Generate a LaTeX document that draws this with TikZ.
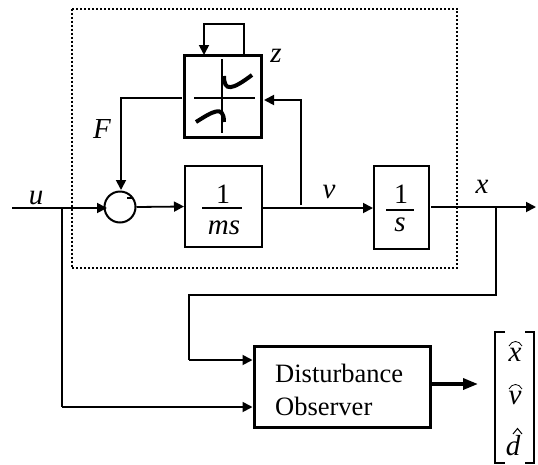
\documentclass[tikz,border=0pt]{standalone}
\usepackage{fontspec}
\setmainfont{Liberation Serif}
\usetikzlibrary{arrows.meta}
\tikzset{
  x=1pt,y=-1pt,
  wire/.style={line width=1.8pt},
  flow/.style={wire,-{Triangle[length=10pt,width=10pt]}},
  bigflow/.style={line width=3.4pt,-{Triangle[length=15pt,width=11pt]}},
  thinbox/.style={draw,line width=2pt,inner sep=0pt},
  thickbox/.style={draw,line width=3pt,inner sep=0pt},
  lab/.style={font=\fontsize{29}{32}\selectfont\itshape,inner sep=0pt},
  num/.style={font=\fontsize{28}{30}\selectfont,inner sep=0pt},
  txt/.style={font=\fontsize{26.5}{30}\selectfont,inner sep=0pt,anchor=base west},
  hatarc/.style={line width=0.8pt},
  brk/.style={line width=1.3pt},
}
\begin{document}
\begin{tikzpicture}
\useasboundingbox (0,0) rectangle (538,464);
\fill[white] (0,0) rectangle (538,464);
% plant frame
\coordinate (framea) at (71.5,8.5);
\coordinate (frameb) at (457,268);
\draw[line width=2pt,dash pattern=on 2pt off 2pt] (framea) rectangle (frameb);
% blocks
\node[thickbox,minimum width=77pt,minimum height=82pt] (nl) at (222.5,96) {};
\node[thinbox,minimum width=77pt,minimum height=81pt] (ms) at (223.5,206.5) {};
\node[thinbox,minimum width=55pt,minimum height=83pt] (int) at (401.5,207.5) {};
\node[thickbox,minimum width=176pt,minimum height=81pt] (obs) at (342,386.5) {};
\node[draw,circle,line width=2pt,minimum size=31pt,inner sep=0pt] (sum) at (120,207) {};
\draw[line width=1.4pt] (127,198) -- (133,198);
\node[txt] (obst) at (275,382) {Disturbance};
\node[txt] (obsb) at (275,415) {Observer};
% fractions
\node[num] (one) at (223,194.5) {1};
\node[lab] (msl) at (224,228) {ms};
\coordinate (bara) at (202,208); \coordinate (barb) at (242,208);
\draw[wire] (bara) -- (barb);
\node[num] (onei) at (401,194.5) {1};
\node[lab] (sl) at (400,225) {s};
\coordinate (barc) at (386,210); \coordinate (bard) at (414,210);
\draw[line width=2.2pt] (barc) -- (bard);
% nonlinearity glyph
\coordinate (axl) at (194,98); \coordinate (axr) at (255,98);
\coordinate (axt) at (222,59); \coordinate (axb) at (222,133);
\draw[wire] (axl) -- (axr);
\draw[wire] (axt) -- (axb);
\draw[line width=4pt] (224,76) .. controls (224,92) and (232,90) .. (252,75);
\draw[line width=4pt] (196,122) .. controls (212,112) and (224,104) .. (224,122);
% labels
\node[lab] (lz) at (276,56) {z};
\node[lab] (lF) at (102,129) {F};
\node[lab] (lu) at (36,198) {u};
\node[lab] (lv) at (329,192) {v};
\node[lab] (lx) at (482,187) {x};
% connectors
\coordinate (in) at (12,208);
\coordinate (br) at (62,208);
\coordinate (lo) at (62,407);
\coordinate (junv) at (301,208);
\coordinate (tapv) at (301,205);
\coordinate (tapx) at (496,207);
\coordinate (out) at (536,207);
\coordinate (fbin) at (204,55);
\coordinate (fbout) at (244,55);
\coordinate (nlout) at (182,98);
\coordinate (nlin) at (264,100);
\coordinate (fcorner) at (121,98);
\coordinate (ftip) at (121,190);
\coordinate (xlo) at (496,295);
\coordinate (xleft) at (189,295);
\coordinate (xdown) at (189,360);
\draw[flow] (in) -- (107,208);
\draw[wire] (br) -- (lo);
\draw[flow] (lo) -- (obs.west |- lo);
\draw[flow] (sum.east) -- (ms.west);
\draw[wire] (ms.east |- junv) -- (junv);
\draw[flow] (junv) -- (int.west |- junv);
\draw[flow] (tapv) |- (nlin);
\draw[wire] (431,207) -- (tapx);
\draw[flow] (tapx) -- (out);
\draw[flow] (fbout) -- (244,24) -- (204,24) -- (fbin);
\draw[flow] (nlout) -- (fcorner) -- (ftip);
\draw[wire] (tapx) -- (xlo) -- (xleft) -- (xdown);
\draw[flow] (xdown) -- (obs.west |- xdown);
\draw[bigflow] (obs.east |- 0,384) -- (478,384);
% output vector
\node[lab] (hx) at (515,355) {x};
\node[lab] (hv) at (515,398) {v};
\node[lab] (hd) at (513,446) {d};
\draw[hatarc] (509,346) .. controls (512,340) and (519,340) .. (522,346);
\draw[hatarc] (509,389) .. controls (512,383) and (519,383) .. (522,389);
\draw[line width=1pt] (513,434) -- (517.5,428.5) -- (522,434);
\coordinate (bl) at (495,332); \coordinate (bb) at (495,463);
\coordinate (br2) at (534,332); \coordinate (bc) at (534,463);
\draw[brk] (505,332) -- (bl) -- (bb) -- (505,463);
\draw[brk] (525,332) -- (br2) -- (bc) -- (525,463);
\end{tikzpicture}
\end{document}
